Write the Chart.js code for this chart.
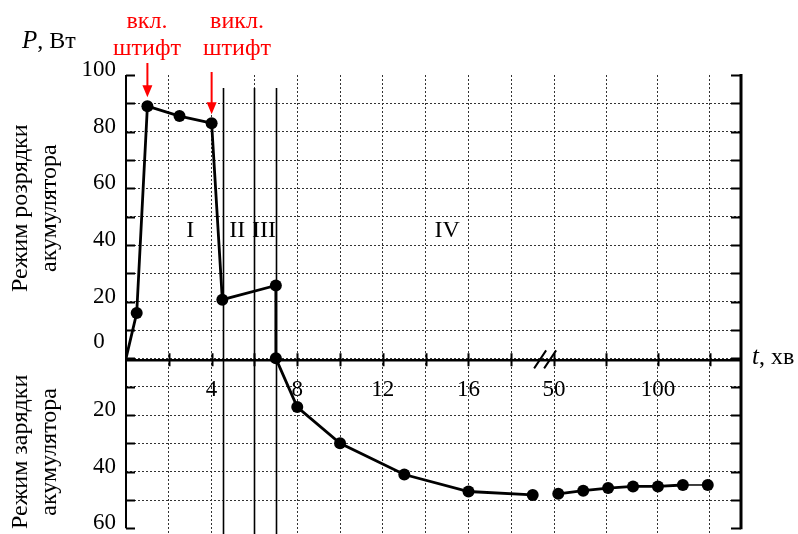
<!DOCTYPE html>
<html>
<head>
<meta charset="utf-8">
<script src="https://cdn.jsdelivr.net/npm/chart.js@4.4.0/dist/chart.umd.min.js"></script>
<style>
  html, body { margin: 0; padding: 0; background: #fff; }
  #wrap { width: 798px; height: 534px; }
</style>
</head>
<body>
<div id="wrap"><canvas id="power"></canvas></div>
<script>
// короткий інтервал: розряд і початок заряду (хв, Вт; заряд зі знаком мінус)
const tShort = [0, 0.5, 1, 2.5, 4, 4.5, 7, 7, 8, 10, 13, 16, 19];
const pShort = [0, 16, 89, 85.5, 83, 20.7, 25.7, 0, -17.2, -30, -41, -47, -48.2];
// довгий інтервал після розриву осі
const tLong = [52, 64, 76, 88, 100, 112, 124];
const pLong = [-47.8, -46.7, -45.8, -45.2, -45.2, -44.7, -44.7];

// поділки осі часу та підписи
const xTicks = [2, 4, 6, 8, 10, 12, 14, 16, 18, 50, 75, 100, 125];
const xLabels = { 4: '4', 8: '8', 12: '12', 16: '16', 50: '50', 100: '100' };
const yTicks = [-60, -50, -40, -30, -20, -10, 0, 10, 20, 30, 40, 50, 60, 70, 80, 90, 100];

// межі режимів I–IV та підписи
const phaseLines = [4.55, 6, 7];
const phaseNames = [['I', 3], ['II', 5.2], ['III', 6.45], ['IV', 15]];

// вісь з розривом: до 20 хв лінійно, після 50 хв стиснуто
const BREAK_A = 20, BREAK_B = 50, K = 0.097;
const toAxis = t => t <= BREAK_A ? t : BREAK_A + (t - BREAK_B) * K;

const serif = '"Liberation Serif", "Times New Roman", serif';

const decor = {
  id: 'decor',
  beforeDatasetsDraw(chart) {
    const { ctx, chartArea: a, scales: { x, y } } = chart;
    const y0 = y.getPixelForValue(0);
    ctx.save();
    ctx.strokeStyle = '#000';

    // вертикальні межі режимів
    ctx.lineWidth = 1.6;
    phaseLines.forEach(t => {
      const px = Math.round(x.getPixelForValue(toAxis(t))) + 0.5;
      ctx.beginPath();
      ctx.moveTo(px, y.getPixelForValue(95.4));
      ctx.lineTo(px, chart.height);
      ctx.stroke();
    });

    // ліва вісь
    const yTop = y.getPixelForValue(100), yBot = y.getPixelForValue(-60);
    ctx.lineWidth = 2;
    ctx.beginPath();
    ctx.moveTo(a.left, yTop); ctx.lineTo(a.left, yBot);
    yTicks.forEach(v => {
      const py = Math.round(y.getPixelForValue(v)) + 0.5;
      ctx.moveTo(a.left, py); ctx.lineTo(a.left + 9, py);
    });
    ctx.stroke();

    // права вісь
    ctx.lineWidth = 3;
    ctx.beginPath();
    ctx.moveTo(a.right, yTop - 1); ctx.lineTo(a.right, yBot + 1);
    ctx.stroke();
    ctx.lineWidth = 2;
    ctx.beginPath();
    yTicks.forEach(v => {
      const py = Math.round(y.getPixelForValue(v)) + 0.5;
      ctx.moveTo(a.right, py); ctx.lineTo(a.right - 10, py);
    });
    ctx.stroke();

    // вісь часу
    ctx.lineWidth = 2.5;
    ctx.beginPath();
    ctx.moveTo(a.left, y0 + 2); ctx.lineTo(a.right, y0 + 2);
    ctx.stroke();
    ctx.lineWidth = 2;
    ctx.beginPath();
    xTicks.forEach(t => {
      const px = Math.round(x.getPixelForValue(toAxis(t))) + 0.5;
      ctx.moveTo(px, y0 - 5); ctx.lineTo(px, y0 + 8);
    });
    ctx.stroke();

    // позначка розриву
    const bx = x.getPixelForValue(toAxis(BREAK_B));
    ctx.lineWidth = 2;
    ctx.beginPath();
    ctx.moveTo(bx - 20, y0 + 10); ctx.lineTo(bx - 8, y0 - 8);
    ctx.moveTo(bx - 10, y0 + 10); ctx.lineTo(bx + 2, y0 - 8);
    ctx.stroke();
    ctx.restore();
  },
  afterDraw(chart) {
    const { ctx, scales: { x, y } } = chart;
    const y0 = y.getPixelForValue(0);
    ctx.save();
    ctx.fillStyle = '#000';
    ctx.textAlign = 'center';
    ctx.textBaseline = 'middle';

    // нуль піднято над віссю часу
    ctx.font = `23px ${serif}`;
    ctx.fillText('0', 99, y0 - 16);

    ctx.font = `24px ${serif}`;
    phaseNames.forEach(([name, t]) => {
      ctx.fillText(name, x.getPixelForValue(toAxis(t)), y.getPixelForValue(45));
    });

    // назви режимів уздовж осі
    const vtext = (lines, cy) => {
      ctx.save();
      ctx.translate(0, cy);
      ctx.rotate(-Math.PI / 2);
      ctx.fillText(lines[0], 0, 21);
      ctx.fillText(lines[1], 0, 50);
      ctx.restore();
    };
    vtext(['Режим розрядки', 'акумулятора'], y.getPixelForValue(53));
    vtext(['Режим зарядки', 'акумулятора'], y.getPixelForValue(-33));

    // підписи осей
    ctx.textAlign = 'left';
    ctx.textBaseline = 'alphabetic';
    ctx.font = `italic 25px ${serif}`;
    ctx.fillText('P', 22, 48);
    let w = ctx.measureText('P').width;
    ctx.font = `24px ${serif}`;
    ctx.fillText(', Вт', 22 + w, 48);

    ctx.font = `italic 25px ${serif}`;
    ctx.fillText('t', 752, y0 + 6);
    w = ctx.measureText('t').width;
    ctx.font = `24px ${serif}`;
    ctx.fillText(', хв', 752 + w, y0 + 6);

    // вмикання / вимикання штифта
    ctx.fillStyle = '#f00';
    ctx.strokeStyle = '#f00';
    ctx.textAlign = 'center';
    const marks = [
      { t: 1, p: pShort[2], tx: 147, lines: ['вкл.', 'штифт'], from: 63 },
      { t: 4, p: pShort[4], tx: 237, lines: ['викл.', 'штифт'], from: 72 }
    ];
    marks.forEach(m => {
      ctx.font = `24px ${serif}`;
      ctx.fillText(m.lines[0], m.tx, 28);
      ctx.fillText(m.lines[1], m.tx, 55);
      const px = x.getPixelForValue(toAxis(m.t));
      const tip = y.getPixelForValue(m.p) - 9;
      ctx.lineWidth = 2;
      ctx.beginPath();
      ctx.moveTo(px, m.from); ctx.lineTo(px, tip - 8);
      ctx.stroke();
      ctx.beginPath();
      ctx.moveTo(px, tip);
      ctx.lineTo(px - 5, tip - 12);
      ctx.lineTo(px + 5, tip - 12);
      ctx.closePath();
      ctx.fill();
    });
    ctx.restore();
  }
};

const lineStyle = {
  borderColor: '#000',
  backgroundColor: '#000',
  borderWidth: 2.8,
  pointRadius: 6,
  pointHoverRadius: 6,
  pointBackgroundColor: '#000',
  pointBorderWidth: 0,
  tension: 0
};

new Chart(document.getElementById('power'), {
  type: 'line',
  data: {
    datasets: [
      {
        ...lineStyle,
        data: tShort.map((t, i) => ({ x: toAxis(t), y: pShort[i] })),
        pointRadius: tShort.map((t, i) => i === 0 ? 0 : 6)
      },
      {
        ...lineStyle,
        data: tLong.map((t, i) => ({ x: toAxis(t), y: pLong[i] })),
        segment: { borderWidth: c => c.p1DataIndex === tLong.length - 1 ? 1.5 : 2.8 }
      }
    ]
  },
  plugins: [decor],
  options: {
    responsive: true,
    maintainAspectRatio: false,
    animation: false,
    layout: { autoPadding: false, padding: { left: 0, right: 57, top: 75, bottom: 0 } },
    plugins: { legend: { display: false }, tooltip: { enabled: false } },
    scales: {
      x: {
        type: 'linear',
        position: { y: 0 },
        min: 0,
        max: toAxis(140),
        afterFit: s => { s.height = 0; s.paddingLeft = 0; s.paddingRight = 0; },
        afterBuildTicks: s => { s.ticks = xTicks.map(t => ({ value: toAxis(t), t })); },
        grid: { color: '#333', lineWidth: 1, drawTicks: false },
        border: { display: false, dash: [2, 2] },
        ticks: {
          autoSkip: false,
          maxRotation: 0,
          padding: 18,
          color: '#000',
          font: { family: serif, size: 23 },
          callback: (v, i) => xLabels[xTicks[i]] || ''
        }
      },
      y: {
        min: -62,
        max: 100,
        // підписи поділок не забирають місця знизу
        afterFit: s => { s.width = 126; s.paddingTop = 0; s.paddingBottom = 0; },
        afterBuildTicks: s => { s.ticks = yTicks.map(v => ({ value: v })); },
        grid: {
          color: c => (c.tick && (c.tick.value === 100 || c.tick.value === -60)) ? 'rgba(0,0,0,0)' : '#333',
          lineWidth: 1,
          drawTicks: false
        },
        border: { display: false, dash: [2, 2] },
        ticks: {
          autoSkip: false,
          padding: 10,
          labelOffset: -5,
          color: '#000',
          font: { family: serif, size: 23 },
          callback: v => (v % 20 === 0 && v !== 0) ? String(Math.abs(v)) : ''
        }
      }
    }
  }
});
</script>
</body>
</html>
